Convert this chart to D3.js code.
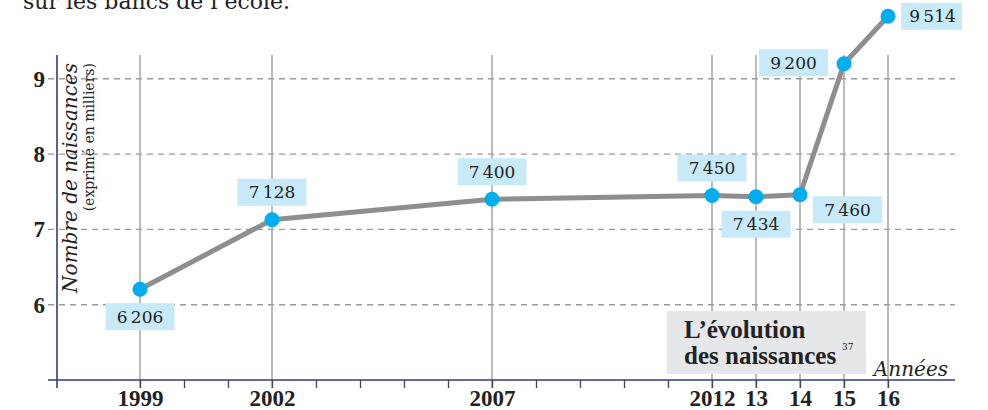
<!DOCTYPE html>
<html><head><meta charset="utf-8">
<script src="https://cdn.jsdelivr.net/npm/d3@7"></script>
<style>
body{margin:0;background:#fff;}
</style></head>
<body><svg id="c" width="988" height="410"></svg>
<script>
// data
const years = [1999, 2002, 2007, 2012, 2013, 2014, 2015, 2016];
const plotted = [6.206, 7.128, 7.4, 7.45, 7.434, 7.46, 9.2, 9.83]; // thousands, as drawn
const valueLabels = ["6\u2009206", "7\u2009128", "7\u2009400", "7\u2009450", "7\u2009434", "7\u2009460", "9\u2009200", "9\u2009514"];
const labelPlace = ["below", "above", "above", "above", "below", "right", "left", "right"];
const yearTickLabels = ["1999", "2002", "2007", "2012", "13", "14", "15", "16"];
const allYears = d3.range(1999, 2017);
const yTicks = [6, 7, 8, 9];

const SERIF = "'Liberation Serif', serif";
const REG = "'DejaVu Serif', serif";
const svg = d3.select("#c");
const x = d3.scaleLinear().domain([1999, 2016]).range([140, 888]);
const y = d3.scaleLinear().domain([5, 9]).range([380, 78.8]);
const navy = "#2e3a8c";

// top cut-off text
svg.append("text").attr("x", 23).attr("y", 9).attr("font-family", REG).attr("font-size", 22).attr("fill", "#222").text("sur les bancs de l\u2019école.");

// horizontal dashed gridlines
svg.append("g").selectAll("line").data(yTicks).join("line")
  .attr("x1", 48).attr("x2", 955).attr("y1", d => y(d)).attr("y2", d => y(d))
  .attr("stroke", "#9a9a9a").attr("stroke-width", 1.4).attr("stroke-dasharray", "6,5");

// vertical year gridlines
svg.append("g").selectAll("line").data(years).join("line")
  .attr("x1", d => x(d)).attr("x2", d => x(d)).attr("y1", 55).attr("y2", 388)
  .attr("stroke", "#a5a5a5").attr("stroke-width", 1.5);

// x axis
const xAxis = d3.axisBottom(x).tickValues(allYears).tickSizeInner(8).tickSizeOuter(0)
  .tickFormat(d => { const i = years.indexOf(d); return i >= 0 ? yearTickLabels[i] : ""; });
const gx = svg.append("g").attr("transform", "translate(0,380)").call(xAxis).attr("font-family", SERIF);
gx.select(".domain").remove();
gx.selectAll(".tick line").attr("stroke", "#444").attr("stroke-width", 1.3);
gx.selectAll(".tick text").attr("font-family", SERIF).attr("font-weight", "bold")
  .attr("font-size", 23).attr("fill", "#222").attr("y", 10).attr("dy", "0.71em");
svg.append("line").attr("x1", 48).attr("x2", 955).attr("y1", 380).attr("y2", 380)
  .attr("stroke", navy).attr("stroke-width", 1.6);

// y axis
svg.append("line").attr("x1", 57).attr("x2", 57).attr("y1", 55).attr("y2", 388)
  .attr("stroke", navy).attr("stroke-width", 1.6);
svg.append("g").selectAll("text").data(yTicks).join("text")
  .attr("x", 45).attr("y", d => y(d)).attr("dy", "0.35em").attr("text-anchor", "end")
  .attr("font-family", SERIF).attr("font-weight", "bold").attr("font-size", 23).attr("fill", "#222").text(d => d);

// y titles
svg.append("text").attr("transform", "translate(77,63) rotate(-90)").attr("text-anchor", "end")
  .attr("font-family", REG).attr("font-style", "italic").attr("font-size", 20).attr("fill", "#222").text("Nombre de naissances");
svg.append("text").attr("transform", "translate(94,63) rotate(-90)").attr("text-anchor", "end")
  .attr("font-family", REG).attr("font-size", 14).attr("fill", "#222").text("(exprimé en milliers)");

// line
const pts = years.map((yr, i) => [x(yr), y(plotted[i])]);
svg.append("path").attr("d", d3.line()(pts)).attr("fill", "none")
  .attr("stroke", "#8e8e90").attr("stroke-width", 5).attr("stroke-linejoin", "round");

// labels
const bw = 69, bh = 27;
years.forEach((yr, i) => {
  const cx = x(yr), cy = y(plotted[i]);
  let bx, by;
  if (labelPlace[i] === "below") { bx = cx - bw / 2; by = cy + 14; }
  else if (labelPlace[i] === "above") { bx = cx - bw / 2; by = cy - 14 - bh; }
  else if (labelPlace[i] === "right") { bx = cx + 13; by = cy - bh / 2 + (i === 5 ? 15 : 0); }
  else { bx = cx - 16 - bw; by = cy - bh / 2 - 1; }
  const w = (i === 7) ? 61 : bw;
  svg.append("rect").attr("x", bx).attr("y", by).attr("width", w).attr("height", bh).attr("fill", "#c8e9f8");
  svg.append("text").attr("x", bx + w / 2 + (i === 7 ? 1 : 0)).attr("y", by + bh / 2).attr("dy", "0.36em")
    .attr("text-anchor", "middle").attr("font-family", REG).attr("font-size", 17).attr("fill", "#222").text(valueLabels[i]);
});

// points
svg.append("g").selectAll("circle").data(pts).join("circle")
  .attr("cx", d => d[0]).attr("cy", d => d[1]).attr("r", 7.5).attr("fill", "#00aeef");

// caption box
svg.append("rect").attr("x", 667).attr("y", 311).attr("width", 199).attr("height", 63).attr("fill", "#e6e7e8");
svg.append("text").attr("x", 684).attr("y", 338).attr("font-family", SERIF).attr("font-weight", "bold").attr("font-size", 25).attr("fill", "#222").text("L\u2019évolution");
svg.append("text").attr("x", 684).attr("y", 364).attr("font-family", SERIF).attr("font-weight", "bold").attr("font-size", 25).attr("fill", "#222").text("des naissances");
svg.append("text").attr("x", 842).attr("y", 350).attr("font-family", REG).attr("font-size", 9).attr("fill", "#222").text("37");

// Années
svg.append("text").attr("x", 948).attr("y", 376).attr("text-anchor", "end").attr("font-family", REG).attr("font-style", "italic")
  .attr("font-size", 20).attr("fill", "#222").text("Années");
</script></body></html>
